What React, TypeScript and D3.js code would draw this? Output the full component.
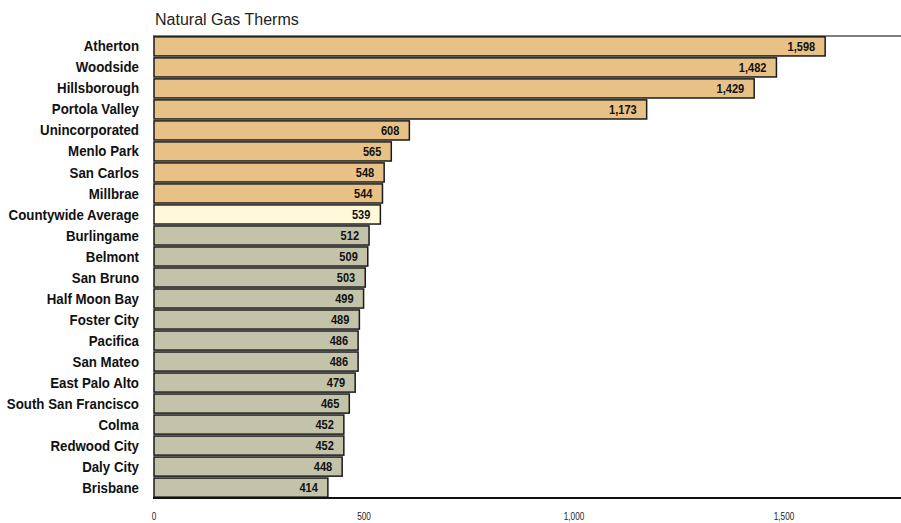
import * as React from "react";
import * as d3 from "d3";

const cities = [
  "Atherton", "Woodside", "Hillsborough", "Portola Valley", "Unincorporated",
  "Menlo Park", "San Carlos", "Millbrae", "Countywide Average", "Burlingame",
  "Belmont", "San Bruno", "Half Moon Bay", "Foster City", "Pacifica",
  "San Mateo", "East Palo Alto", "South San Francisco", "Colma",
  "Redwood City", "Daly City", "Brisbane",
];
const therms = [
  1598, 1482, 1429, 1173, 608, 565, 548, 544, 539, 512, 509, 503, 499, 489,
  486, 486, 479, 465, 452, 452, 448, 414,
];
// above / average / below the countywide figure
const groups = [
  "above", "above", "above", "above", "above", "above", "above", "above",
  "avg", "below", "below", "below", "below", "below", "below", "below",
  "below", "below", "below", "below", "below", "below",
];
const xTicks = [0, 500, 1000, 1500];

const W = 901;
const H = 523;
const margin = { top: 36, right: -9, bottom: 25, left: 154 };
const fill: Record<string, string> = { above: "#e8c187", avg: "#fff9da", below: "#c3c3aa" };

export default function App() {
  React.useEffect(() => {
    document.body.style.margin = "0";
  }, []);

  const x = d3.scaleLinear().domain([0, 1800]).range([margin.left, W - margin.right]);
  const y = d3.scaleBand<string>().domain(cities).range([margin.top, H - margin.bottom]).paddingInner(0.09).paddingOuter(0.04);
  const fmt = d3.format(",");

  return (
    <svg width={W} height={H} style={{ display: "block" }} fontFamily="'Liberation Sans', Arial, sans-serif">
      <text x={155} y={25} fontSize={16} fill="#222">Natural Gas Therms</text>
      <line x1={margin.left - 1} x2={W} y1={margin.top} y2={margin.top} stroke="#555" strokeWidth={1.5} />
      {cities.map((c, i) => {
        const cy = y(c)! + y.bandwidth() / 2;
        return (
          <g key={c}>
            <rect
              x={x(0)}
              y={y(c)!}
              width={x(therms[i]) - x(0)}
              height={y.bandwidth()}
              fill={fill[groups[i]]}
              stroke="#1a1a1a"
              strokeWidth={1.5}
            />
            <g transform={`translate(${x(therms[i]) - 10},${cy}) scale(0.85,1)`}>
              <text dy="0.36em" textAnchor="end" fontSize={13} fontWeight="bold" fill="#111">
                {fmt(therms[i])}
              </text>
            </g>
            <g transform={`translate(139,${cy}) scale(0.95,1)`}>
              <text dy="0.36em" textAnchor="end" fontSize={14} fontWeight="bold" fill="#111">
                {c}
              </text>
            </g>
          </g>
        );
      })}
      <line x1={margin.left - 1} x2={W} y1={H - margin.bottom} y2={H - margin.bottom} stroke="#111" strokeWidth={2} />
      {xTicks.map((t) => (
        <g key={t} transform={`translate(${x(t)},520) scale(0.82,1)`}>
          <text textAnchor="middle" fontSize={10} fill="#222">
            {fmt(t)}
          </text>
        </g>
      ))}
    </svg>
  );
}
